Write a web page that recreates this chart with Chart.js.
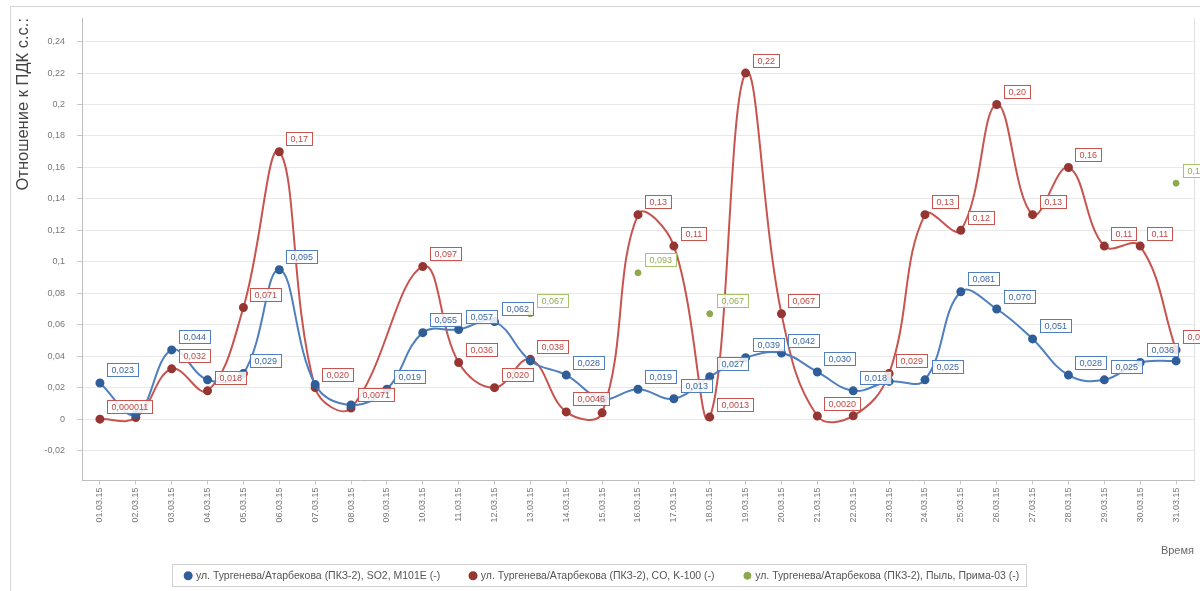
<!DOCTYPE html>
<html>
<head>
    <meta charset="UTF-8">
    <title>Отношение к ПДК с.с.</title>
    <script src="https://cdn.jsdelivr.net/npm/chart.js@4.4.0/dist/chart.umd.min.js"></script>
    <style>
        body { margin: 0; background: #fff; }
        #container { width: 1200px; height: 591px; position: relative; }
    </style>
    <script type="text/javascript">
        var days = ['01.03.15', '02.03.15', '03.03.15', '04.03.15', '05.03.15', '06.03.15', '07.03.15', '08.03.15',
            '09.03.15', '10.03.15', '11.03.15', '12.03.15', '13.03.15', '14.03.15', '15.03.15', '16.03.15',
            '17.03.15', '18.03.15', '19.03.15', '20.03.15', '21.03.15', '22.03.15', '23.03.15', '24.03.15',
            '25.03.15', '26.03.15', '27.03.15', '28.03.15', '29.03.15', '30.03.15', '31.03.15'];

        var so2Values = [0.023, 0.003, 0.044, 0.025, 0.029, 0.095, 0.022, 0.009, 0.019, 0.055, 0.057, 0.062, 0.037, 0.028,
            0.013, 0.019, 0.013, 0.027, 0.039, 0.042, 0.030, 0.018, 0.024, 0.025, 0.081, 0.070, 0.051, 0.028,
            0.025, 0.036, 0.037];

        var coValues = [0.000011, 0.001, 0.032, 0.018, 0.071, 0.17, 0.020, 0.0071, null, 0.097, 0.036, 0.020, 0.038, 0.0046,
            0.004, 0.13, 0.11, 0.0013, 0.22, 0.067, 0.002, 0.0021, 0.029, 0.13, 0.12, 0.20, 0.13, 0.16,
            0.11, 0.11, 0.044];

        var dustValues = [null, null, null, null, null, null, null, null, null, null, null, null, 0.067, null,
            null, 0.093, null, 0.067, null, null, null, null, null, null, null, null, null, null,
            null, null, 0.15];

        var seriesNames = [
            'ул. Тургенева/Атарбекова (ПКЗ-2), SO2, M101E (-)',
            'ул. Тургенева/Атарбекова (ПКЗ-2), CO, K-100 (-)',
            'ул. Тургенева/Атарбекова (ПКЗ-2), Пыль, Прима-03 (-)'
        ];

        var yTitle = 'Отношение к ПДК с.с.:';
        var xTitle = 'Время';

        var fontFamily = '"Liberation Sans", Arial, sans-serif';

        function fmtTick(v) {
            return String(+(+v).toFixed(4)).replace('.', ',');
        }

        function fmtLabel(v) {
            if (v === 0) return '0';
            return Number(v).toPrecision(2).replace('.', ',');
        }

        // value boxes next to each point, hidden when they run into one already drawn
        var pointLabels = {
            id: 'pointLabels',
            afterDatasetsDraw: function (chart) {
                var ctx = chart.ctx;
                var placed = [];
                ctx.save();
                ctx.font = '9px ' + fontFamily;
                ctx.textBaseline = 'middle';
                ctx.lineWidth = 1;
                [1, 0, 2].forEach(function (di) {
                    var ds = chart.data.datasets[di];
                    var meta = chart.getDatasetMeta(di);
                    meta.data.forEach(function (pt, i) {
                        var v = ds.data[i];
                        if (v === null || v === undefined) return;
                        var text = fmtLabel(v);
                        var w = Math.round(ctx.measureText(text).width + 8);
                        var h = 13;
                        var x = Math.round(pt.x + 7);
                        var y = Math.round(pt.y - 13 - h / 2);
                        var box = { x1: x - 2, y1: y - 1, x2: x + w + 2, y2: y + h + 1 };
                        var hit = placed.some(function (b) {
                            return box.x1 < b.x2 && box.x2 > b.x1 && box.y1 < b.y2 && box.y2 > b.y1;
                        });
                        if (hit) return;
                        placed.push(box);
                        ctx.fillStyle = 'rgba(255,255,255,0.85)';
                        ctx.fillRect(x + 0.5, y + 0.5, w, h);
                        ctx.strokeStyle = ds.borderColor;
                        ctx.strokeRect(x + 0.5, y + 0.5, w, h);
                        ctx.fillStyle = ds.labelColor;
                        ctx.fillText(text, x + 4.5, y + h / 2 + 1);
                    });
                });
                ctx.restore();
            }
        };

        var frames = {
            id: 'frames',
            beforeDraw: function (chart) {
                var ctx = chart.ctx;
                var a = chart.chartArea;
                ctx.save();
                ctx.strokeStyle = '#d4d4d4';
                ctx.lineWidth = 1;
                ctx.strokeRect(10.5, 6.5, 1200, 600);
                ctx.strokeStyle = '#e2e2e2';
                ctx.beginPath();
                ctx.moveTo(Math.round(a.right) + 0.5, a.top);
                ctx.lineTo(Math.round(a.right) + 0.5, a.bottom);
                ctx.stroke();
                ctx.restore();
            },
            afterDraw: function (chart) {
                var lg = chart.legend;
                if (!lg || !lg.legendHitBoxes.length) return;
                var boxes = lg.legendHitBoxes;
                var left = boxes[0].left - 14;
                var last = boxes[boxes.length - 1];
                var right = last.left + last.width + 6;
                var ctx = chart.ctx;
                ctx.save();
                ctx.strokeStyle = '#d0d0d0';
                ctx.lineWidth = 1;
                ctx.strokeRect(Math.round(left) + 0.5, Math.round(boxes[0].top) - 6.5, Math.round(right - left), 22);
                ctx.restore();
            }
        };

        window.onload = function () {
            var ctx = document.getElementById('pdkCanvas').getContext('2d');
            window.pdkChart = new Chart(ctx, {
                type: 'line',
                data: {
                    labels: days,
                    datasets: [{
                            label: seriesNames[0],
                            data: so2Values,
                            borderColor: '#4f7fbe',
                            labelColor: '#3a68a3',
                            backgroundColor: '#2f5e98',
                            pointBackgroundColor: '#2f5e98',
                            pointBorderColor: '#2f5e98',
                            pointRadius: 3.5,
                            borderWidth: 2,
                            tension: 0.4,
                            spanGaps: true
                        }, {
                            label: seriesNames[1],
                            data: coValues,
                            borderColor: '#c85450',
                            labelColor: '#c04a46',
                            backgroundColor: '#963633',
                            pointBackgroundColor: '#963633',
                            pointBorderColor: '#963633',
                            pointRadius: 3.5,
                            borderWidth: 2,
                            tension: 0.4,
                            spanGaps: true
                        }, {
                            label: seriesNames[2],
                            data: dustValues,
                            borderColor: '#a8c46a',
                            labelColor: '#93ad55',
                            backgroundColor: '#8fa84e',
                            pointBackgroundColor: '#8fa84e',
                            pointBorderColor: '#8fa84e',
                            pointRadius: 3,
                            showLine: false
                        }]
                },
                options: {
                    responsive: true,
                    maintainAspectRatio: false,
                    animation: false,
                    layout: {
                        padding: { left: 10, top: 18, right: 5, bottom: 0 }
                    },
                    plugins: {
                        tooltip: { enabled: false },
                        legend: {
                            position: 'bottom',
                            labels: {
                                usePointStyle: true,
                                pointStyle: 'circle',
                                boxWidth: 5,
                                boxHeight: 5,
                                padding: 7,
                                color: '#555',
                                font: { size: 10.5, family: fontFamily },
                                generateLabels: function (chart) {
                                    var items = Chart.defaults.plugins.legend.labels.generateLabels(chart);
                                    items.forEach(function (it, i) {
                                        if (i < items.length - 1) it.text = it.text + '\u00a0\u00a0\u00a0\u00a0\u00a0\u00a0\u00a0\u00a0';
                                    });
                                    return items;
                                }
                            }
                        }
                    },
                    scales: {
                        x: {
                            offset: true,
                            grid: {
                                display: true,
                                drawOnChartArea: false,
                                tickLength: 4,
                                color: '#c8c8c8'
                            },
                            border: { color: '#bdbdbd' },
                            ticks: {
                                autoSkip: false,
                                minRotation: 90,
                                maxRotation: 90,
                                padding: 3,
                                color: '#777',
                                font: { size: 9, family: fontFamily }
                            },
                            title: {
                                display: true,
                                text: xTitle,
                                align: 'end',
                                color: '#666',
                                padding: { top: 2, bottom: 6 },
                                font: { size: 11, family: fontFamily }
                            },
                            afterFit: function (scale) {
                                scale.height = 83;
                            }
                        },
                        y: {
                            min: -0.039,
                            max: 0.255,
                            grid: {
                                color: '#e8e8e8',
                                tickLength: 5,
                                tickColor: '#c8c8c8'
                            },
                            border: { color: '#bdbdbd' },
                            ticks: {
                                stepSize: 0.02,
                                includeBounds: false,
                                padding: 12,
                                color: '#777',
                                font: { size: 9, family: fontFamily },
                                callback: function (v) { return fmtTick(v); }
                            },
                            title: {
                                display: true,
                                text: yTitle,
                                align: 'end',
                                color: '#444',
                                padding: { top: 4, bottom: 0 },
                                font: { size: 16.5, family: fontFamily }
                            },
                            afterFit: function (scale) {
                                scale.width = 72;
                            }
                        }
                    }
                },
                plugins: [pointLabels, frames]
            });
        };
    </script>
</head>
<body>
    <div id="container">
        <canvas id="pdkCanvas"></canvas>
    </div>
</body>
</html>
